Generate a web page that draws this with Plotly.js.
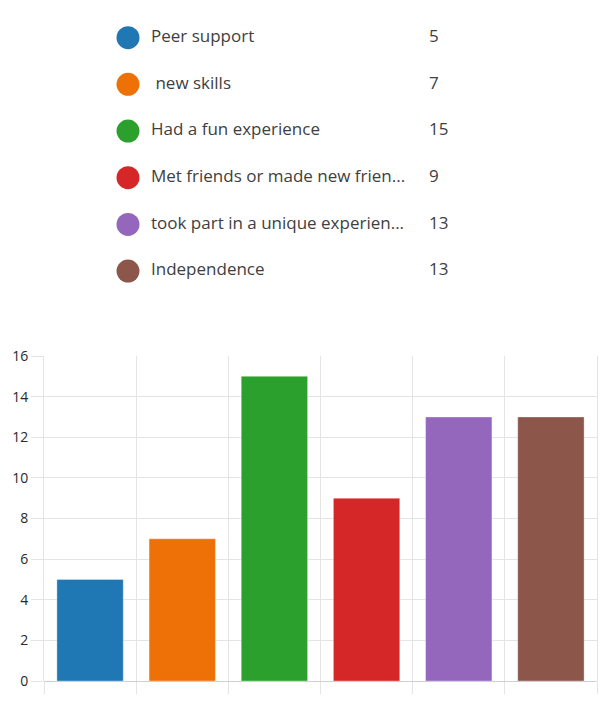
<!DOCTYPE html>
<html>
<head>
<meta charset="utf-8">
<script src="https://cdn.plot.ly/plotly-3.0.1.min.js"></script>
<style>
  html, body { margin: 0; padding: 0; background: #fff; }
  #chart { width: 609px; height: 707px; }
</style>
</head>
<body>
<div id="chart"></div>
<script>
// Survey answers as shown in the legend (long ones are cut off in the source)
const labels = [
    'Peer support',
    '\u00a0new skills',
    'Had a fun experience',
    'Met friends or made new frien...',
    'took part in a unique experien...',
    'Independence'
];
const counts = [5, 7, 15, 9, 13, 13];
const colors = ['#1f77b4', '#ed7107', '#2ca02c', '#d62728', '#9467bd', '#8c564b'];
const yTicks = [0, 2, 4, 6, 8, 10, 12, 14, 16];

// legend column positions, in pixels across the page
const DOT_X = 128, LABEL_X = 151, VALUE_X = 429;

const W = 609, H = 707;
const FONT = 'Open Sans, sans-serif';
const TEXT_COLOR = '#404040';
const GRID = '#e4e4e4';

const rows = labels.map((_, i) => i);

const traces = [
    {
        type: 'bar',
        x: labels,
        y: counts,
        marker: { color: colors, line: { width: 1, color: 'rgba(255,255,255,0.35)' } },
        hoverinfo: 'x+y',
        xaxis: 'x', yaxis: 'y'
    },
    // legend dots
    {
        type: 'scatter', mode: 'markers',
        x: rows.map(() => DOT_X), y: rows,
        marker: { size: 23, color: colors },
        hoverinfo: 'skip',
        xaxis: 'x2', yaxis: 'y2'
    },
    // legend labels
    {
        type: 'scatter', mode: 'text',
        x: rows.map(() => LABEL_X), y: rows,
        text: labels, textposition: 'middle right',
        textfont: { family: FONT, size: 17, color: TEXT_COLOR },
        hoverinfo: 'skip',
        xaxis: 'x2', yaxis: 'y2'
    },
    // legend values
    {
        type: 'scatter', mode: 'text',
        x: rows.map(() => VALUE_X), y: rows,
        text: counts.map(String), textposition: 'middle right',
        textfont: { family: FONT, size: 17, color: TEXT_COLOR },
        hoverinfo: 'skip',
        xaxis: 'x2', yaxis: 'y2'
    }
];

const layout = {
    width: W, height: H,
    margin: { t: 0, b: 0, l: 0, r: 0 },
    paper_bgcolor: '#fff',
    plot_bgcolor: '#fff',
    showlegend: false,
    bargap: 0.28,
    font: { family: FONT, color: TEXT_COLOR },
    xaxis: {
        domain: [44 / W, 597 / W],
        type: 'category',
        showticklabels: false,
        tickson: 'boundaries',
        ticks: 'outside', ticklen: 12, tickcolor: GRID,
        showgrid: true, gridcolor: GRID,
        showline: false,
        fixedrange: true
    },
    yaxis: {
        domain: [26 / H, 351 / H],
        range: [0, 16],
        tickvals: yTicks,
        ticks: 'outside', ticklen: 12, tickcolor: GRID,
        tickfont: { family: FONT, size: 14, color: '#2a2a2a' },
        showgrid: true, gridcolor: GRID,
        zeroline: true, zerolinecolor: '#d0d0d0', zerolinewidth: 1,
        showline: true, linecolor: GRID, mirror: true,
        fixedrange: true
    },
    xaxis2: {
        domain: [0, 1], range: [0, W],
        visible: false, fixedrange: true
    },
    yaxis2: {
        anchor: 'x2',
        domain: [(H - 294.4) / H, (H - 14.3) / H],
        range: [5.5, -0.5],
        visible: false, fixedrange: true
    }
};

Plotly.newPlot('chart', traces, layout, { displayModeBar: false, responsive: false });
</script>
</body>
</html>
